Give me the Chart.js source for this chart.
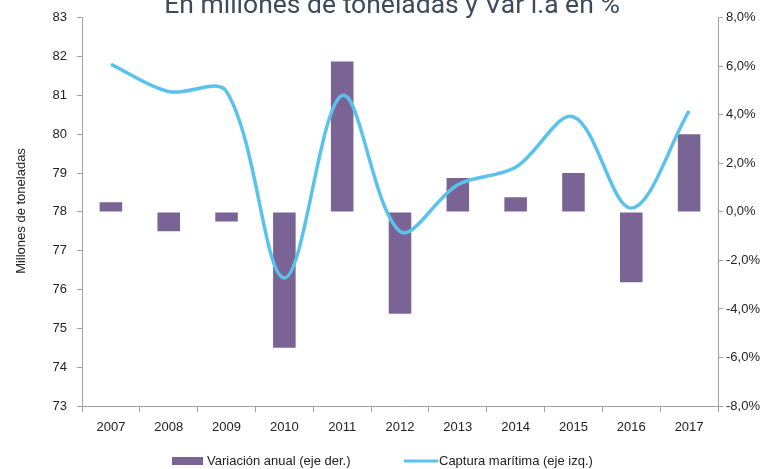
<!DOCTYPE html>
<html><head><meta charset="utf-8">
<script src="https://cdn.jsdelivr.net/npm/chart.js@4"></script>
<style>html,body{margin:0;padding:0;background:#fff}#wrap{width:768px;height:469px}</style>
</head><body><div id="wrap"><canvas id="c" width="768" height="469"></canvas></div>
<script>
const years = ['2007','2008','2009','2010','2011','2012','2013','2014','2015','2016','2017'];
const variacionAnual = [0.4, -0.8, -0.4, -5.6, 6.2, -4.2, 1.4, 0.6, 1.6, -2.9, 3.2];
const capturaMaritima = [81.8, 81.1, 81.1, 76.3, 81.0, 77.5, 78.7, 79.15, 80.45, 78.1, 80.6];
const titleText = 'En millones de toneladas y Var i.a en %';
const yTitleText = 'Millones de toneladas';

const FONT = "'Liberation Sans Narrow','Arial Narrow','Liberation Sans',Arial,sans-serif";
const AXIS = '#a0a0a0';
const PURPLE = '#7a6495';
const BLUE = '#5bc2ec';

const extras = {
  id: 'extras',
  afterDraw(chart) {
    const ctx = chart.ctx;
    ctx.save();
    ctx.fillStyle = '#3d4b5c';
    ctx.font = "26.5px Roboto, sans-serif";
    ctx.textAlign = 'center';
    ctx.textBaseline = 'alphabetic';
    ctx.fillText(titleText, 392, 13);
    ctx.save();
    ctx.translate(21, 211);
    ctx.rotate(-Math.PI/2);
    ctx.fillStyle = '#222';
    ctx.font = "13px " + FONT;
    ctx.textBaseline = 'middle';
    ctx.textAlign = 'center';
    ctx.fillText(yTitleText, 0, 0);
    ctx.restore();
    // legend
    const ly = 461;
    ctx.font = "13px " + FONT;
    ctx.textAlign = 'left';
    ctx.textBaseline = 'middle';
    ctx.fillStyle = PURPLE;
    ctx.fillRect(172, ly - 4, 31, 8);
    ctx.fillStyle = '#222';
    ctx.fillText(chart.data.datasets[0].label, 207, ly);
    ctx.strokeStyle = BLUE;
    ctx.lineWidth = 3;
    ctx.beginPath(); ctx.moveTo(404, ly); ctx.lineTo(438, ly); ctx.stroke();
    ctx.fillText(chart.data.datasets[1].label, 439, ly);
    ctx.restore();
  }
};

new Chart(document.getElementById('c'), {
  data: {
    labels: years,
    datasets: [
      { type: 'bar', label: 'Variación anual (eje der.)', data: variacionAnual, yAxisID: 'y2',
        backgroundColor: PURPLE, barPercentage: 0.39, categoryPercentage: 1, order: 2 },
      { type: 'line', label: 'Captura marítima (eje izq.)', data: capturaMaritima, yAxisID: 'y',
        borderColor: BLUE, borderWidth: 3.5, pointRadius: 0, tension: 0.34, fill: false, order: 1 }
    ]
  },
  options: {
    responsive: false, animation: false,
    layout: { padding: { top: 17, left: 0, right: 0, bottom: 0 } },
    plugins: { legend: { display: false }, title: { display: false }, tooltip: { enabled: false } },
    scales: {
      x: {
        offset: true,
        grid: { display: true, drawOnChartArea: false, drawTicks: true, tickLength: 6, color: AXIS, offset: true },
        border: { display: true, color: AXIS, width: 1 },
        ticks: { color: '#222', font: { family: FONT, size: 13 }, padding: 8, maxRotation: 0 },
        afterFit(s) { s.height = 63; }
      },
      y: {
        position: 'left', min: 73, max: 83,
        grid: { display: true, drawOnChartArea: false, drawTicks: true, tickLength: 5, color: AXIS },
        border: { display: true, color: AXIS, width: 1 },
        ticks: { stepSize: 1, color: '#222', font: { family: FONT, size: 13 }, padding: 10 },
        afterFit(s) { s.width = 82; }
      },
      y2: {
        position: 'right', min: -8, max: 8,
        grid: { display: true, drawOnChartArea: false, drawTicks: true, tickLength: 5, color: AXIS },
        border: { display: true, color: AXIS, width: 1 },
        ticks: { stepSize: 2, color: '#222', font: { family: FONT, size: 13 }, padding: 3,
          callback: v => v.toFixed(1).replace('.', ',') + '%' },
        afterFit(s) { s.width = 50; }
      }
    }
  },
  plugins: [extras]
});
</script></body></html>
